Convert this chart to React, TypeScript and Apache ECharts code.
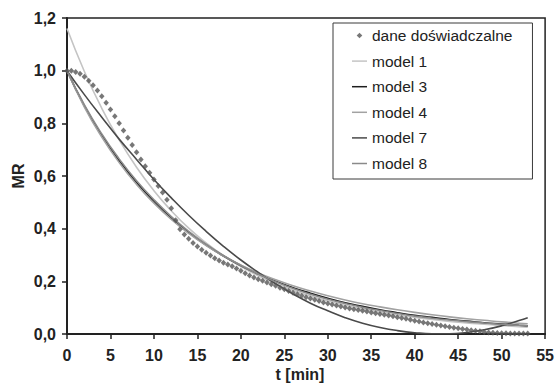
import React, { useEffect, useRef } from "react";
import * as echarts from "echarts";

const T_EXP = [
  0, 0.5, 1, 1.5, 2, 2.5, 3, 3.5, 4, 4.5, 5, 5.5, 6, 6.5, 7, 7.5, 8, 8.5, 9, 9.5,
  10, 10.5, 11, 11.5, 12, 12.5, 13, 13.5, 14, 14.5, 15, 15.5, 16, 16.5, 17, 17.5, 18, 18.5, 19, 19.5,
  20, 20.5, 21, 21.5, 22, 22.5, 23, 23.5, 24, 24.5, 25, 25.5, 26, 26.5, 27, 27.5, 28, 28.5, 29, 29.5,
  30, 30.5, 31, 31.5, 32, 32.5, 33, 33.5, 34, 34.5, 35, 35.5, 36, 36.5, 37, 37.5, 38, 38.5, 39, 39.5,
  40, 40.5, 41, 41.5, 42, 42.5, 43, 43.5, 44, 44.5, 45, 45.5, 46, 46.5, 47, 47.5, 48, 48.5, 49, 49.5,
  50, 50.5, 51, 51.5, 52, 52.5, 53,
];
const MR_EXP = [
  1.0, 1.0, 0.995, 0.988, 0.977, 0.962, 0.945, 0.925, 0.903, 0.878, 0.853, 0.827, 0.8, 0.773, 0.745, 0.718, 0.69, 0.663, 0.637, 0.612,
  0.587, 0.562, 0.537, 0.51, 0.478, 0.432, 0.398, 0.378, 0.362, 0.346, 0.332, 0.32, 0.309, 0.298, 0.288, 0.279, 0.271, 0.264, 0.257, 0.249,
  0.24, 0.231, 0.222, 0.215, 0.208, 0.202, 0.196, 0.189, 0.183, 0.176, 0.17, 0.163, 0.157, 0.151, 0.145, 0.14, 0.135, 0.13, 0.125, 0.12,
  0.116, 0.112, 0.108, 0.104, 0.101, 0.097, 0.094, 0.091, 0.088, 0.085, 0.082, 0.079, 0.076, 0.073, 0.07, 0.067, 0.064, 0.061, 0.058, 0.054,
  0.05, 0.047, 0.044, 0.041, 0.038, 0.035, 0.032, 0.029, 0.027, 0.024, 0.022, 0.019, 0.017, 0.014, 0.012, 0.01, 0.008, 0.006, 0.005, 0.004,
  0.003, 0.003, 0.002, 0.002, 0.002, 0.002, 0.002,
];

const T_MODEL = [0, 2, 4, 6, 8, 10, 12, 14, 16, 18, 20, 22, 24, 26, 28, 30, 32, 34, 36, 38, 40, 42, 44, 46, 48, 50, 52, 53];
const MODEL_1 = [1.16, 0.997, 0.857, 0.737, 0.633, 0.544, 0.468, 0.402, 0.346, 0.297, 0.256, 0.221, 0.192, 0.166, 0.144, 0.125, 0.109, 0.095, 0.083, 0.072, 0.063, 0.055, 0.048, 0.042, 0.037, 0.032, 0.028, 0.026];
const MODEL_3 = [1.0, 0.866, 0.754, 0.658, 0.575, 0.503, 0.44, 0.386, 0.338, 0.296, 0.26, 0.228, 0.2, 0.176, 0.155, 0.136, 0.119, 0.105, 0.092, 0.081, 0.071, 0.063, 0.055, 0.049, 0.043, 0.038, 0.033, 0.031];
const MODEL_4 = [1.0, 0.862, 0.748, 0.651, 0.568, 0.497, 0.435, 0.382, 0.336, 0.296, 0.262, 0.232, 0.206, 0.183, 0.163, 0.145, 0.129, 0.115, 0.103, 0.092, 0.082, 0.073, 0.065, 0.058, 0.052, 0.046, 0.041, 0.039];
const MODEL_7 = [1.0, 0.909, 0.823, 0.74, 0.663, 0.587, 0.517, 0.451, 0.39, 0.333, 0.281, 0.234, 0.191, 0.152, 0.117, 0.088, 0.062, 0.041, 0.025, 0.013, 0.005, 0.001, 0.001, 0.006, 0.016, 0.031, 0.051, 0.062];
const MODEL_8 = [1.0, 0.87, 0.76, 0.665, 0.582, 0.51, 0.446, 0.39, 0.341, 0.298, 0.26, 0.227, 0.198, 0.173, 0.151, 0.132, 0.116, 0.101, 0.089, 0.078, 0.068, 0.06, 0.053, 0.047, 0.042, 0.037, 0.033, 0.031];

const Y_TICKS = [0, 0.2, 0.4, 0.6, 0.8, 1.0, 1.2];
const X_TICKS = [0, 5, 10, 15, 20, 25, 30, 35, 40, 45, 50, 55];

const SERIES_NAMES = ["dane doświadczalne", "model 1", "model 3", "model 4", "model 7", "model 8"];
const MODEL_VALUES = [MODEL_1, MODEL_3, MODEL_4, MODEL_7, MODEL_8];
const MODEL_COLORS = ["#c4c4c4", "#1e1e1e", "#a2a2a2", "#4a4a4a", "#8a8a8a"];

const FONT = "'Liberation Sans', Arial, Helvetica, sans-serif";
const LINE_ICON = "path://M0,0 M16,14 M0,6.2 L16,6.2 L16,7.8 L0,7.8 Z";
const DIAMOND_ICON = "path://M0,0 M16,14 M8,4 L11,7 L8,10 L5,7 Z";

export default function App() {
  const ref = useRef<HTMLDivElement>(null);
  useEffect(() => {
    if (!ref.current) return;
    const chart = echarts.init(ref.current, undefined, { renderer: "svg" });
    const modelSeries = MODEL_VALUES.map((vals, i) => ({
      name: SERIES_NAMES[i + 1],
      type: "line",
      data: T_MODEL.map((t, j) => [t, vals[j]]),
      smooth: true,
      symbol: "none",
      lineStyle: { color: MODEL_COLORS[i], width: 1.6 },
      itemStyle: { color: MODEL_COLORS[i] },
      z: 2,
    }));
    chart.setOption({
      animation: false,
      backgroundColor: "#fff",
      textStyle: { fontFamily: FONT },
      grid: {
        left: 67,
        right: 10,
        top: 18,
        bottom: 49,
        show: true,
        borderColor: "#222",
        borderWidth: 1.5,
        backgroundColor: "transparent",
      },
      xAxis: {
        type: "value",
        min: X_TICKS[0],
        max: X_TICKS[X_TICKS.length - 1],
        interval: 5,
        axisLine: { show: true, lineStyle: { color: "#222", width: 2 } },
        axisTick: { show: true, inside: false, length: 5, lineStyle: { color: "#222", width: 1.5 } },
        splitLine: { show: false },
        axisLabel: { color: "#222", fontSize: 16, fontWeight: "bold", fontFamily: FONT, margin: 13 },
      },
      yAxis: {
        type: "value",
        min: Y_TICKS[0],
        max: Y_TICKS[Y_TICKS.length - 1],
        interval: 0.2,
        axisLine: { show: true, lineStyle: { color: "#222", width: 2 } },
        axisTick: { show: true, inside: false, length: 5, lineStyle: { color: "#222", width: 1.5 } },
        splitLine: { show: false },
        axisLabel: {
          color: "#222",
          fontSize: 16,
          fontWeight: "bold",
          fontFamily: FONT,
          margin: 11,
          formatter: (v: number) => v.toFixed(1).replace(".", ","),
        },
      },
      legend: {
        show: true,
        orient: "vertical",
        left: 333,
        top: 23,
        padding: [4.5, 20, 7.5, 19],
        itemGap: 9.6,
        itemWidth: 15,
        itemHeight: 14,
        backgroundColor: "#fff",
        borderColor: "#3a3a3a",
        borderWidth: 1,
        borderRadius: 0,
        textStyle: { fontSize: 15.5, color: "#222", fontFamily: FONT, lineHeight: 16 },
        data: [
          { name: SERIES_NAMES[0], icon: DIAMOND_ICON },
          ...SERIES_NAMES.slice(1).map((n) => ({ name: n, icon: LINE_ICON })),
        ],
      },
      graphic: [
        {
          type: "text",
          x: 18,
          y: 176,
          rotation: Math.PI / 2,
          style: {
            text: "MR",
            font: `bold 16px ${FONT}`,
            fill: "#222",
            align: "center",
            verticalAlign: "middle",
          },
        },
        {
          type: "text",
          x: 300,
          y: 374,
          style: {
            text: "t [min]",
            font: `bold 16px ${FONT}`,
            fill: "#222",
            align: "center",
            verticalAlign: "middle",
          },
        },
      ],
      series: [
        ...modelSeries,
        {
          name: SERIES_NAMES[0],
          type: "scatter",
          data: T_EXP.map((t, i) => [t, MR_EXP[i]]),
          symbol: "diamond",
          symbolSize: [5.5, 6],
          itemStyle: { color: "#555" },
          z: 3,
        },
      ],
    });
    return () => chart.dispose();
  }, []);
  return <div ref={ref} style={{ width: 557, height: 383, position: "absolute", left: 0, top: 0 }} />;
}
